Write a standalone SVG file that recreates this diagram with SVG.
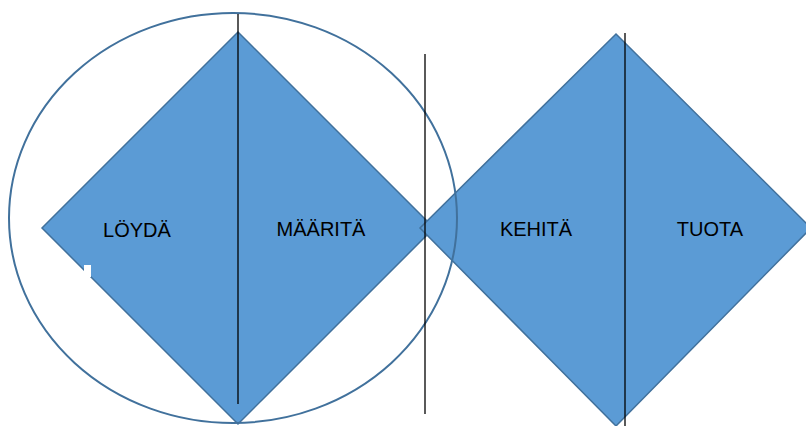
<svg xmlns="http://www.w3.org/2000/svg" width="806" height="426" viewBox="0 0 806 426">
<style>
.dia{fill:#5B9BD5;stroke:#41719C;stroke-width:1.5}
.lbl{font-family:"Liberation Sans",Arial,sans-serif;font-size:20px;fill:#000;text-anchor:middle}
.vl{stroke:#000;stroke-width:1.3}
</style>
<rect width="806" height="426" fill="#fff"/>
<g id="diamond-left">
<polygon class="dia" points="238,32 434,228 238,424 42,228"/>
</g>
<g id="diamond-right">
<polygon class="dia" points="616,34 811,228 616,426 420,228"/>
</g>
<g id="ellipse">
<ellipse cx="233" cy="218" rx="224" ry="205" fill="none" stroke="#41719C" stroke-width="2"/>
</g>
<rect x="84" y="265" width="7" height="12" fill="#fff"/>
<g id="connectors">
<line class="vl" x1="238" y1="14" x2="238" y2="404"/>
<line class="vl" x1="425" y1="54" x2="425" y2="414"/>
<line class="vl" x1="625" y1="33" x2="625" y2="426"/>
</g>
<g id="label-loyda"><text class="lbl" x="137" y="237">LÖYDÄ</text></g>
<g id="label-maarita"><text class="lbl" x="321" y="236">MÄÄRITÄ</text></g>
<g id="label-kehita"><text class="lbl" x="536" y="236">KEHITÄ</text></g>
<g id="label-tuota"><text class="lbl" x="710" y="236">TUOTA</text></g>
</svg>
